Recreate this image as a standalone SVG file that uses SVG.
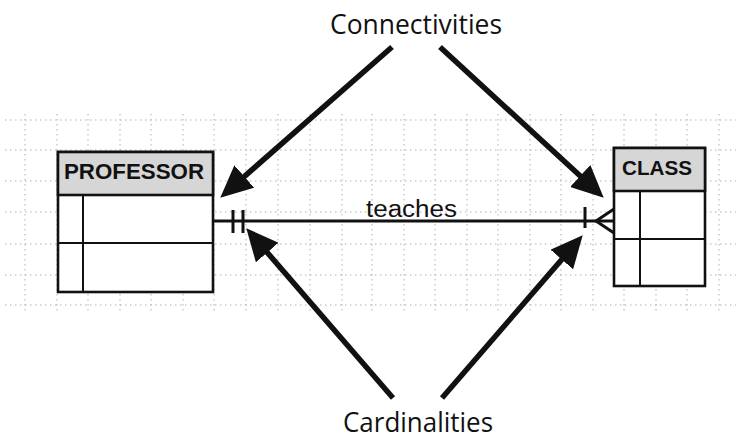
<svg xmlns="http://www.w3.org/2000/svg" width="736" height="441" viewBox="0 0 736 441">
  <style>
    .grid line { stroke: #b0b0b0; stroke-width: 1; stroke-dasharray: 1.5 3.5; }
    .box { fill: #ffffff; stroke: #111; stroke-width: 2.6; }
    .head { fill: #d6d6d6; stroke: #111; stroke-width: 2.6; }
    .div { stroke: #111; stroke-width: 2; }
    .ename { font-family: "Liberation Sans", Arial, sans-serif; font-weight: bold; fill: #111; }
    .label { font-family: "Liberation Sans", Arial, sans-serif; font-size: 23px; fill: #111; }
    .note { font-family: "Open Sans", "Lato", sans-serif; font-size: 27px; fill: #111; text-anchor: middle; }
    .rel { stroke: #111; stroke-width: 3; fill: none; }
    .pointer { stroke: #111; stroke-width: 5.5; fill: none; marker-end: url(#head); }
  </style>
  <defs>
    <marker id="head" markerUnits="userSpaceOnUse" markerWidth="32" markerHeight="30" refX="23" refY="15" orient="auto">
      <path d="M0,0 L32,15 L0,30 z" fill="#111"/>
    </marker>
  </defs>

  <rect width="736" height="441" fill="#ffffff"/>

  <!-- background dotted grid -->
  <g id="grid" class="grid">
    <line x1="5" y1="120" x2="736" y2="120"/>
    <line x1="5" y1="150" x2="736" y2="150"/>
    <line x1="5" y1="181" x2="736" y2="181"/>
    <line x1="5" y1="212" x2="736" y2="212"/>
    <line x1="5" y1="244" x2="736" y2="244"/>
    <line x1="5" y1="275" x2="736" y2="275"/>
    <line x1="5" y1="305" x2="736" y2="305"/>
    <line x1="25" y1="114" x2="25" y2="312"/>
    <line x1="57" y1="114" x2="57" y2="312"/>
    <line x1="88" y1="114" x2="88" y2="312"/>
    <line x1="120" y1="114" x2="120" y2="312"/>
    <line x1="151" y1="114" x2="151" y2="312"/>
    <line x1="183" y1="114" x2="183" y2="312"/>
    <line x1="214" y1="114" x2="214" y2="312"/>
    <line x1="246" y1="114" x2="246" y2="312"/>
    <line x1="278" y1="114" x2="278" y2="312"/>
    <line x1="310" y1="114" x2="310" y2="312"/>
    <line x1="342" y1="114" x2="342" y2="312"/>
    <line x1="372" y1="114" x2="372" y2="312"/>
    <line x1="404" y1="114" x2="404" y2="312"/>
    <line x1="435" y1="114" x2="435" y2="312"/>
    <line x1="467" y1="114" x2="467" y2="312"/>
    <line x1="498" y1="114" x2="498" y2="312"/>
    <line x1="530" y1="114" x2="530" y2="312"/>
    <line x1="561" y1="114" x2="561" y2="312"/>
    <line x1="593" y1="114" x2="593" y2="312"/>
    <line x1="624" y1="114" x2="624" y2="312"/>
    <line x1="656" y1="114" x2="656" y2="312"/>
    <line x1="687" y1="114" x2="687" y2="312"/>
    <line x1="719" y1="114" x2="719" y2="312"/>
  </g>

  <!-- PROFESSOR entity -->
  <g id="professor">
    <rect class="box" x="58" y="152" width="155" height="140"/>
    <rect class="head" x="58" y="152" width="155" height="43"/>
    <line class="div" x1="58" y1="243" x2="213" y2="243"/>
    <line class="div" x1="83" y1="195" x2="83" y2="292"/>
    <text class="ename" x="64" y="179" font-size="22" textLength="140" lengthAdjust="spacingAndGlyphs">PROFESSOR</text>
  </g>

  <!-- CLASS entity -->
  <g id="class">
    <rect class="box" x="614" y="148" width="91" height="138"/>
    <rect class="head" x="614" y="148" width="91" height="43"/>
    <line class="div" x1="614" y1="239" x2="705" y2="239"/>
    <line class="div" x1="640" y1="191" x2="640" y2="286"/>
    <text class="ename" x="622" y="175" font-size="21" textLength="70" lengthAdjust="spacingAndGlyphs">CLASS</text>
  </g>

  <!-- relationship and its end symbols -->
  <g id="connectors">
    <line class="rel" x1="213" y1="221" x2="614" y2="221"/>
    <!-- one and only one -->
    <line class="rel" x1="233" y1="210" x2="233" y2="233"/>
    <line class="rel" x1="243" y1="210" x2="243" y2="233"/>
    <!-- one or many -->
    <line class="rel" x1="585" y1="207" x2="585" y2="228"/>
    <path class="rel" d="M614,209 L596,221 L614,233" stroke-width="2.5"/>
  </g>

  <g id="teaches">
    <text class="label" x="366" y="217" textLength="91" lengthAdjust="spacingAndGlyphs">teaches</text>
  </g>

  <!-- callouts -->
  <g id="connectivities">
    <text class="note" x="416" y="34" textLength="172" lengthAdjust="spacingAndGlyphs">Connectivities</text>
  </g>
  <g id="cardinalities">
    <text class="note" x="418" y="432" textLength="150" lengthAdjust="spacingAndGlyphs">Cardinalities</text>
  </g>

  <g id="pointers">
    <line class="pointer" x1="392" y1="47" x2="227" y2="191.7"/>
    <line class="pointer" x1="440" y1="47" x2="597.1" y2="191.6"/>
    <line class="pointer" x1="393" y1="398" x2="252.2" y2="235.1"/>
    <line class="pointer" x1="442" y1="398" x2="576.8" y2="242.1"/>
  </g>
</svg>
